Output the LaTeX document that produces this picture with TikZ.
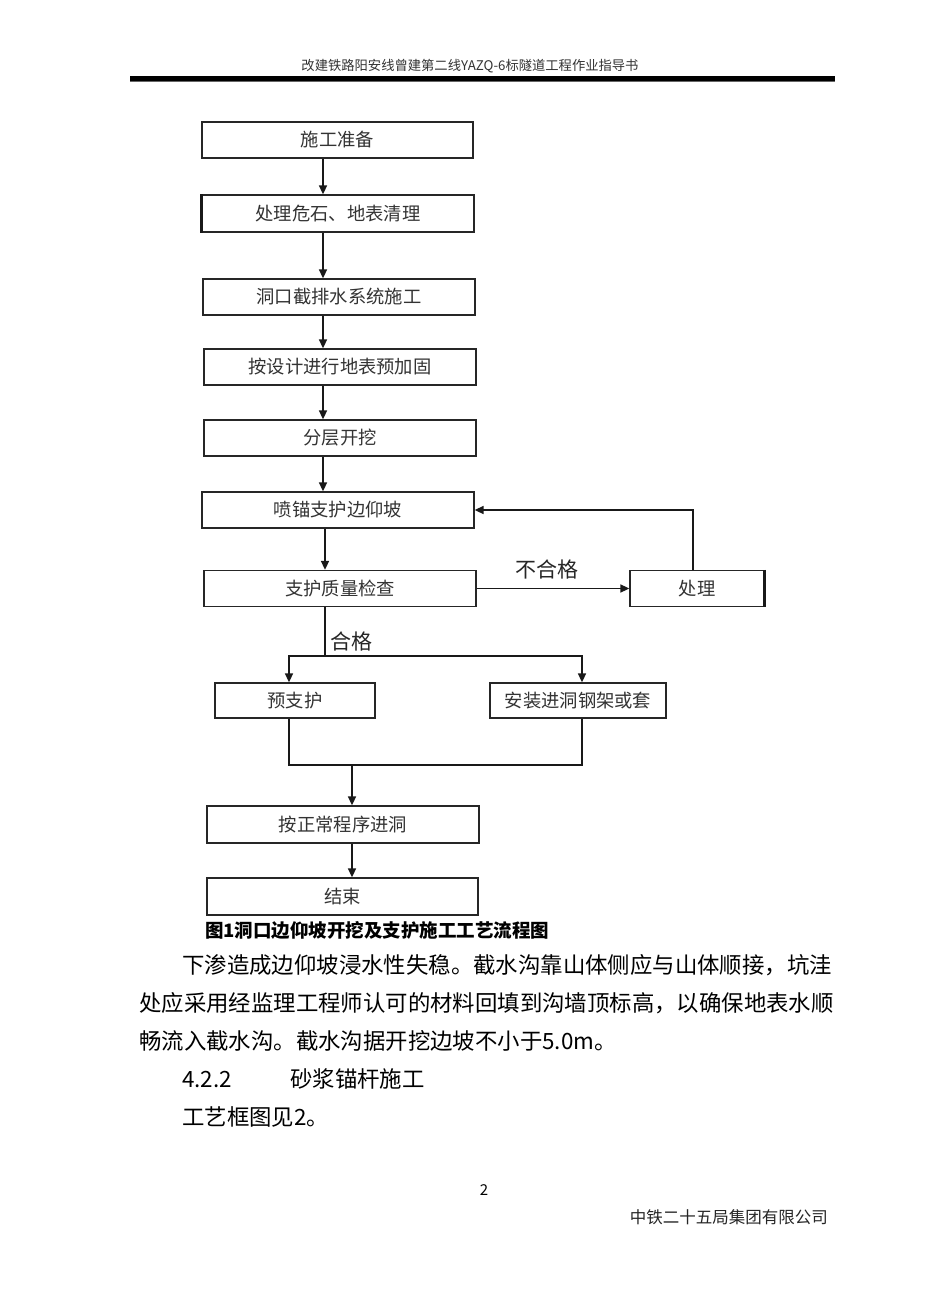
\documentclass[tikz,border=0pt]{standalone}
\usepackage{fontspec}
\setmainfont{Noto Sans CJK SC}
\usetikzlibrary{arrows.meta}
\begin{document}
\begin{tikzpicture}[x=1pt,y=-1pt,
  box/.style={draw=black!85, line width=1.3pt, inner sep=0pt, font=\fontsize{18.3}{18.3}\selectfont, text=black!80},
  arr/.style={draw=black!90, line width=1.6pt, -{Triangle[length=9pt,width=8pt]}},
  ln/.style={draw=black!90, line width=1.6pt},
  lab/.style={inner sep=0pt, font=\fontsize{21}{21}\selectfont, text=black!85},
  body/.style={inner sep=0pt, anchor=west, font=\fontsize{22.4}{22.4}\selectfont}]
\useasboundingbox (0,0) rectangle (930,1315);
\fill[white] (0,0) rectangle (930,1315);
% header
\node[inner sep=0pt, font=\fontsize{13.3}{13.3}\selectfont, text=black!80] (hdr) at (470,66) {改建铁路阳安线曾建第二线YAZQ-6标隧道工程作业指导书};
\draw[line width=5pt] (130,78) -- (835,78);
\draw[line width=1.2pt, black!60] (130,81.6) -- (835,81.6);
% boxes
\node[box, minimum width=271pt, minimum height=36pt] (b1) at (337.5,140) {施工准备};
\node[box, minimum width=272pt, minimum height=37pt] (b2) at (338,213.5) {处理危石、地表清理};
\node[box, minimum width=272pt, minimum height=36pt] (b3) at (339,297) {洞口截排水系统施工};
\node[box, minimum width=272pt, minimum height=36pt] (b4) at (340,367) {按设计进行地表预加固};
\node[box, minimum width=272pt, minimum height=36pt] (b5) at (340,438) {分层开挖};
\node[box, minimum width=272pt, minimum height=36pt] (b6) at (338,510) {喷锚支护边仰坡};
\node[box, minimum width=272pt, minimum height=36pt] (b7) at (340,588.5) {支护质量检查};
\node[box, minimum width=134pt, minimum height=36pt] (b8) at (697,588.5) {处理};
\node[box, minimum width=160pt, minimum height=35pt] (b9) at (295,700.5) {预支护};
\node[box, minimum width=176pt, minimum height=35pt] (b10) at (578,700.5) {安装进洞钢架或套};
\node[box, minimum width=272pt, minimum height=37pt] (b11) at (343,824.5) {按正常程序进洞};
\node[box, minimum width=271pt, minimum height=37pt] (b12) at (342.5,896.5) {结束};
% heavier edges
\draw[line width=2.4pt, black!90] (b2.north west) -- (b2.south west);
\draw[line width=2.4pt, black!90] (b8.north east) -- (b8.south east);
% column coordinates
\coordinate (c1) at (323,0);
\coordinate (c2) at (325,0);
\coordinate (fb) at (693,0);
\coordinate (lx) at (289,0);
\coordinate (rx) at (582,0);
\coordinate (j1) at (325,656);
\coordinate (m) at (352,765);
% main chain
\draw[arr] (b1.south -| c1) -- (b2.north -| c1);
\draw[arr] (b2.south -| c1) -- (b3.north -| c1);
\draw[arr] (b3.south -| c1) -- (b4.north -| c1);
\draw[arr] (b4.south -| c1) -- (b5.north -| c1);
\draw[arr] (b5.south -| c1) -- (b6.north -| c1);
\draw[arr] (b6.south -| c2) -- (b7.north -| c2);
% fail loop
\draw[arr] (b7.east) -- (b8.west);
\node[lab] (nh) at (547,569) {不合格};
\draw[arr] (b8.north -| fb) |- (b6.east);
% pass branch
\draw[ln] (b7.south -| j1) -- (j1);
\node[lab] (hg) at (351,641) {合格};
\draw[arr] (j1) -| (b9.north -| lx);
\draw[arr] (j1) -| (b10.north -| rx);
% merge
\draw[ln] (b9.south -| lx) -- (lx |- m) -- (rx |- m) -- (b10.south -| rx);
\draw[arr] (m) -- (b11.north -| m);
\draw[arr] (b11.south -| m) -- (b12.north -| m);
% caption
\node[inner sep=0pt, anchor=west, font=\fontsize{18.5}{18.5}\selectfont\bfseries] (cap) at (205,930) {图1洞口边仰坡开挖及支护施工工艺流程图};
% body text
\node[body] (t1) at (182,965) {下渗造成边仰坡浸水性失稳。截水沟靠山体侧应与山体顺接，坑洼};
\node[body] (t2) at (139,1003) {处应采用经监理工程师认可的材料回填到沟墙顶标高，以确保地表水顺};
\node[body] (t3) at (139,1041) {畅流入截水沟。截水沟据开挖边坡不小于5.0m。};
\node[body] (t4a) at (182,1079) {4.2.2};
\node[body] (t4b) at (290,1079) {砂浆锚杆施工};
\node[body] (t5) at (182,1117) {工艺框图见2。};
% footer
\node[inner sep=0pt, font=\fontsize{15}{15}\selectfont] (pg) at (484,1190) {2};
\node[inner sep=0pt, anchor=east, font=\fontsize{16.5}{16.5}\selectfont, text=black!85] (ft) at (828,1217) {中铁二十五局集团有限公司};
\end{tikzpicture}
\end{document}
